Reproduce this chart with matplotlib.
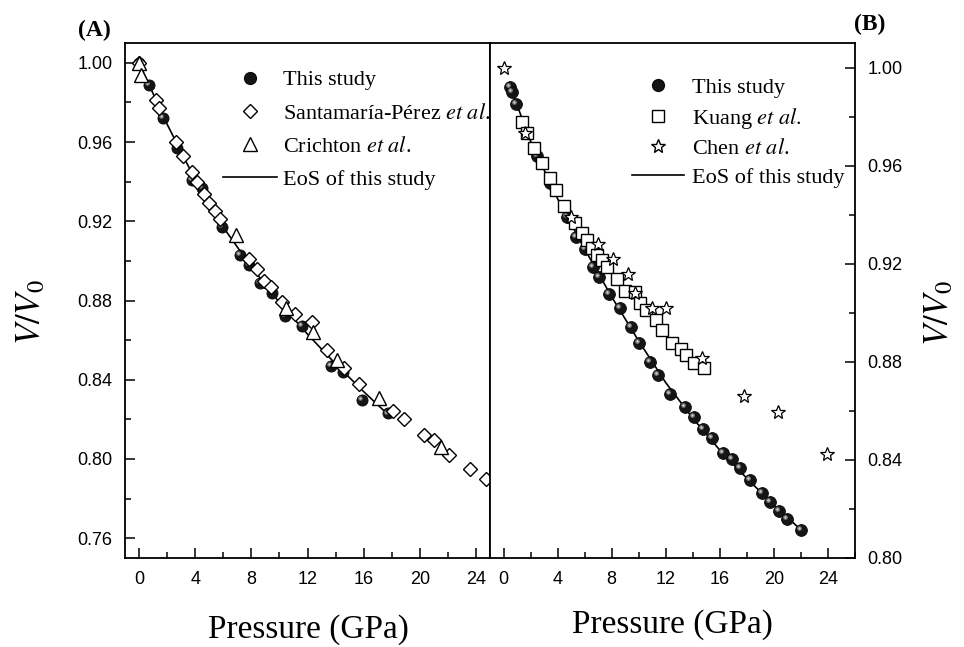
import matplotlib.pyplot as plt
import matplotlib.transforms as mtransforms
from matplotlib.lines import Line2D
from matplotlib.ticker import MultipleLocator, FormatStrFormatter

plt.rcParams['font.family'] = 'Liberation Serif'
plt.rcParams['mathtext.fontset'] = 'stix'

# ---- panel A: this study vs. literature ----
p_this_a = [0.0, 0.7, 1.7, 2.7, 3.8, 4.5, 5.9, 7.2, 7.8, 8.6, 9.5, 10.4, 11.6,
            13.7, 14.5, 15.9, 17.7]
v_this_a = [1.000, 0.989, 0.972, 0.957, 0.941, 0.937, 0.917, 0.903, 0.898, 0.889,
            0.884, 0.872, 0.867, 0.847, 0.844, 0.830, 0.823]

p_santa = [0.0, 1.2, 1.45, 2.6, 3.1, 3.8, 4.15, 4.6, 5.0, 5.4, 5.8, 7.8, 8.4, 8.9,
           9.4, 10.2, 11.1, 12.3, 13.4, 14.6, 15.7, 18.1, 18.9, 20.3, 21.0, 22.1,
           23.6, 24.7]
v_santa = [1.000, 0.981, 0.977, 0.960, 0.953, 0.945, 0.940, 0.934, 0.929, 0.925,
           0.921, 0.901, 0.896, 0.890, 0.887, 0.879, 0.873, 0.869, 0.855, 0.846,
           0.838, 0.824, 0.820, 0.812, 0.8095, 0.802, 0.795, 0.790]

p_crich = [0.0, 0.15, 6.9, 10.5, 12.4, 14.1, 17.1, 21.5]
v_crich = [1.000, 0.994, 0.913, 0.876, 0.864, 0.850, 0.831, 0.806]

p_eos_a = [0, 2, 4, 6, 8, 10, 12, 14, 16, 17.8]
v_eos_a = [1.000, 0.969, 0.941, 0.917, 0.897, 0.879, 0.863, 0.848, 0.834, 0.822]

# ---- panel B ----
p_this_b = [0.5, 0.6, 0.95, 2.5, 3.45, 4.7, 5.35, 6.0, 6.6, 7.05, 7.8, 8.6, 9.4,
            10.05, 10.8, 11.45, 12.3, 13.4, 14.1, 14.75, 15.4, 16.2, 16.9, 17.5,
            18.2, 19.1, 19.7, 20.4, 21.0, 22.0]
v_this_b = [0.992, 0.990, 0.985, 0.964, 0.953, 0.939, 0.931, 0.926, 0.9185, 0.9145,
            0.9075, 0.902, 0.894, 0.8875, 0.880, 0.8745, 0.867, 0.8615, 0.8575,
            0.8525, 0.849, 0.843, 0.8405, 0.8365, 0.832, 0.8265, 0.823, 0.819,
            0.816, 0.8115]

p_kuang = [1.39, 1.76, 2.28, 2.86, 3.45, 3.89, 4.48, 5.28, 5.80, 6.17, 6.53, 6.90,
           7.27, 7.63, 8.37, 8.95, 9.69, 10.06, 10.57, 11.30, 11.74, 12.48, 13.14,
           13.50, 14.09, 14.83]
v_kuang = [0.9776, 0.9735, 0.9670, 0.9609, 0.9548, 0.9499, 0.9434, 0.9365, 0.9324,
           0.9295, 0.9263, 0.9234, 0.9214, 0.9185, 0.9136, 0.9088, 0.9084, 0.9039,
           0.9010, 0.8969, 0.8929, 0.8876, 0.8851, 0.8827, 0.8794, 0.8774]

p_chen = [0.0, 1.6, 5.0, 7.0, 8.1, 9.2, 9.7, 11.0, 12.0, 14.7, 17.8, 20.3, 23.9]
v_chen = [1.000, 0.9735, 0.939, 0.928, 0.922, 0.916, 0.908, 0.902, 0.902, 0.8815,
          0.866, 0.8595, 0.8425]

p_eos_b = [0.4, 2, 4, 6, 8, 10, 12, 14, 16, 18, 20, 22.3]
v_eos_b = [0.9935, 0.9700, 0.9465, 0.9260, 0.9065, 0.8885, 0.8715, 0.8570, 0.8440,
           0.8325, 0.8215, 0.8100]

fig = plt.figure(figsize=(9.64, 6.47), dpi=100)
ax_a = fig.add_axes([125 / 964, 89 / 647, 365 / 964, 515 / 647])
ax_b = fig.add_axes([490 / 964, 89 / 647, 365 / 964, 515 / 647])


def spheres(ax, p, v, ms):
    # dark ball with a soft highlight up-left
    ax.plot(p, v, 'o', ms=ms, mfc='#151515', mec='#0a0a0a', mew=0.6, zorder=3)
    hi = mtransforms.offset_copy(ax.transData, fig=fig, x=-ms * 0.17, y=ms * 0.17,
                                 units='points')
    ax.plot(p, v, 'o', ms=ms * 0.42, mfc='#777777', mec='none', alpha=0.9,
            transform=hi, zorder=3.1)
    ax.plot(p, v, 'o', ms=ms * 0.2, mfc='#d0d0d0', mec='none', transform=hi,
            zorder=3.2)


ax_a.plot(p_eos_a, v_eos_a, color='black', lw=1.2, zorder=2)
spheres(ax_a, p_this_a, v_this_a, 8)
ax_a.plot(p_santa, v_santa, 'D', ms=7.3, mfc='white', mec='black', mew=1.0, zorder=4)
ax_a.plot(p_crich, v_crich, '^', ms=10, mfc='white', mec='black', mew=1.0, zorder=5)

ax_b.plot(p_eos_b, v_eos_b, color='black', lw=1.2, zorder=2)
spheres(ax_b, p_this_b, v_this_b, 8.5)
ax_b.plot(p_kuang, v_kuang, 's', ms=8, mfc='white', mec='black', mew=1.0, zorder=4)
ax_b.plot(p_chen, v_chen, '*', ms=10, mfc='white', mec='black', mew=0.9, zorder=5)

ax_a.set_xlim(-1, 25)
ax_a.set_ylim(0.75, 1.01)
ax_b.set_xlim(-1, 26)
ax_b.set_ylim(0.80, 1.01)

for ax in (ax_a, ax_b):
    for s in ax.spines.values():
        s.set_linewidth(1.3)
    ax.xaxis.set_major_locator(MultipleLocator(4))
    ax.xaxis.set_minor_locator(MultipleLocator(2))
    ax.yaxis.set_major_locator(MultipleLocator(0.04))
    ax.yaxis.set_minor_locator(MultipleLocator(0.02))
    ax.yaxis.set_major_formatter(FormatStrFormatter('%.2f'))
    ax.tick_params(which='both', direction='in', width=1.1, top=False,
                   labelsize=13, labelfontfamily='Liberation Sans', pad=9)
    ax.tick_params(which='major', length=7)
    ax.tick_params(which='minor', length=4)

ax_a.tick_params(which='both', right=False)
ax_b.tick_params(which='both', left=False, labelleft=False, right=True,
                 labelright=True)

mk = dict(ls='none', mec='black', mfc='white', mew=1.0)
h_this = Line2D([], [], ls='none', marker='o', ms=8.5, mfc='#151515', mec='#0a0a0a')
h_eos = Line2D([], [], color='black', lw=1.2)

ax_a.legend([h_this, Line2D([], [], marker='D', ms=7.3, **mk),
             Line2D([], [], marker='^', ms=10, **mk), h_eos],
            ['This study', r'Santamaría-Pérez $\mathit{et\ al}$.',
             r'Crichton $\mathit{et\ al}$.', 'EoS of this study'],
            loc='upper left', bbox_to_anchor=(0.268, 0.948), frameon=False,
            fontsize=16, handlelength=2.43, handletextpad=0.27,
            labelspacing=0.57, borderpad=0, borderaxespad=0)

ax_b.legend([h_this, Line2D([], [], marker='s', ms=8, **mk),
             Line2D([], [], marker='*', ms=10, **mk), h_eos],
            ['This study', r'Kuang $\mathit{et\ al.}$',
             r'Chen $\mathit{et\ al}$.', 'EoS of this study'],
            loc='upper left', bbox_to_anchor=(0.389, 0.933), frameon=False,
            fontsize=16, handlelength=2.35, handletextpad=0.36,
            labelspacing=0.35, borderpad=0, borderaxespad=0)

fig.text(94 / 964, 1 - 30 / 647, '(A)', weight='bold', size=17, ha='center',
         va='center')
fig.text(870 / 964, 1 - 24 / 647, '(B)', weight='bold', size=17, ha='center',
         va='center')
fig.text(32 / 964, 1 - 312 / 647, r'$V/V_0$', rotation=90, size=25, ha='center',
         va='center')
fig.text(940 / 964, 1 - 313 / 647, r'$V/V_0$', rotation=90, size=25, ha='center',
         va='center')
fig.text(308 / 964, 1 - 630 / 647, 'Pressure (GPa)', size=24, ha='center',
         va='center')
fig.text(672 / 964, 1 - 625 / 647, 'Pressure (GPa)', size=24, ha='center',
         va='center')

fig.savefig('out.png', dpi=100)
